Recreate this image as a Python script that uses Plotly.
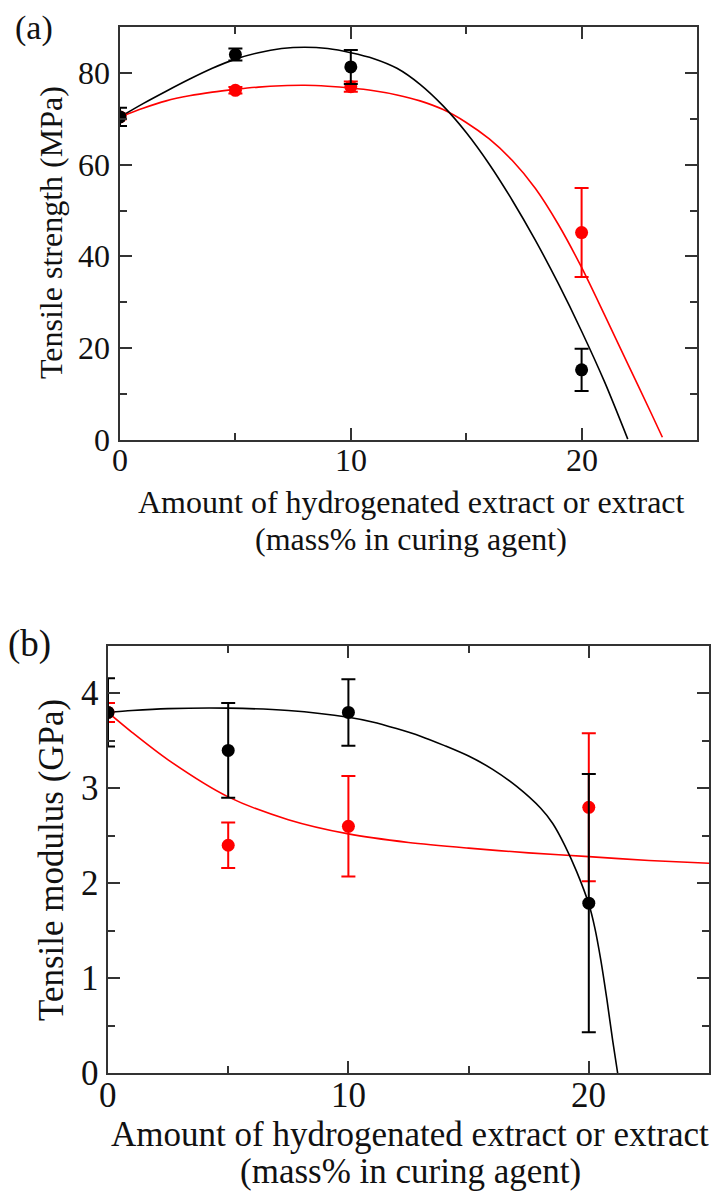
import plotly.graph_objects as go

W, H = 718, 1195

# ---------------- data ----------------
x_data = [0, 5, 10, 20]

# (a) tensile strength (MPa)
strength_black = [70.4, 84.0, 81.3, 15.3]
strength_black_err = [2.0, 1.3, 3.7, 4.6]
strength_red = [70.4, 76.2, 77.0, 45.2]
strength_red_err = [0.5, 0.7, 1.1, 9.7]

# fitted curves, values
fit_a_black_x = [0, 1, 2, 3, 4, 5, 6, 7, 8, 9, 10, 11, 12, 13, 14, 15, 16, 17, 18, 19, 20, 21, 22]
fit_a_black_y = [70.4, 73.3, 76.0, 78.6, 81.0, 83.0, 84.4, 85.3, 85.6, 85.3, 84.4, 83.1, 81.0, 77.5,
                 72.8, 67.0, 60.1, 52.2, 43.5, 34.0, 23.7, 12.6, 0.2]
fit_a_red_x = [0, 1, 2, 3, 4, 5, 6, 7, 8, 9, 10, 11, 12, 13, 14, 15, 16, 17, 18, 19, 20, 21, 22, 23, 23.5]
fit_a_red_y = [70.4, 72.3, 73.9, 75.0, 75.8, 76.4, 76.9, 77.2, 77.3, 77.1, 76.7, 76.1, 75.2, 73.9,
               72.0, 69.2, 65.6, 60.9, 54.8, 46.9, 37.6, 27.2, 16.6, 6.0, 0.6]

# (b) tensile modulus (GPa)
modulus_black = [3.80, 3.40, 3.80, 1.79]
modulus_black_err = [0.36, 0.50, 0.35, 1.36]
modulus_red = [3.80, 2.40, 2.60, 2.80]
modulus_red_err = [0.10, 0.24, 0.53, 0.78]

fit_b_black_x = [0, 1, 2.5, 5, 7.5, 10, 11, 12, 13, 14, 15, 16, 17, 18, 18.5, 19, 19.5, 20,
                 20.25, 20.5, 20.75, 21.0, 21.2]
fit_b_black_y = [3.80, 3.82, 3.84, 3.845, 3.82, 3.75, 3.70, 3.63, 3.55, 3.45, 3.34, 3.20, 3.02, 2.79,
                 2.63, 2.40, 2.12, 1.78, 1.53, 1.19, 0.78, 0.33, 0.0]
fit_b_red_x = [0, 1, 2.5, 5, 7.5, 10, 12.5, 15, 17.5, 20, 22.5, 25]
fit_b_red_y = [3.80, 3.59, 3.30, 2.91, 2.67, 2.52, 2.43, 2.37, 2.32, 2.28, 2.24, 2.21]

# axes
x_range = [0, 25]
a_y_range = [0, 90]
b_y_range = [0, 4.5]
x_tick_vals = [0, 10, 20]
x_tick_text = ["0", "10", "20"]
a_y_tick_vals = [0, 20, 40, 60, 80]
a_y_tick_text = ["0", "20", "40", "60", "80"]
b_y_tick_vals = [0, 1, 2, 3, 4]
b_y_tick_text = ["0", "1", "2", "3", "4"]

x_title_1 = "Amount of hydrogenated extract or extract"
x_title_2 = "(mass% in curing agent)"

# ---------------- styles ----------------
RED = "#ff0000"
BLACK = "#000000"
AXC = "#333333"
TXT = "#111111"
FONT = "Liberation Serif"

fig = go.Figure()


def add_panel(xa, ya, fx_b, fy_b, fx_r, fy_r, yb, eb, yr, er):
    fig.add_trace(go.Scatter(x=fx_r, y=fy_r, mode="lines",
                             line=dict(color=RED, width=1.6, shape="spline", smoothing=0.8),
                             xaxis=xa, yaxis=ya, showlegend=False, hoverinfo="skip"))
    fig.add_trace(go.Scatter(x=fx_b, y=fy_b, mode="lines",
                             line=dict(color=BLACK, width=1.6, shape="spline", smoothing=0.8),
                             xaxis=xa, yaxis=ya, showlegend=False, hoverinfo="skip"))
    fig.add_trace(go.Scatter(x=x_data, y=yr, mode="markers", marker=dict(color=RED, size=13),
                             error_y=dict(type="data", array=er, color=RED, thickness=2, width=7),
                             xaxis=xa, yaxis=ya, showlegend=False, name="extract"))
    fig.add_trace(go.Scatter(x=x_data, y=yb, mode="markers", marker=dict(color=BLACK, size=13),
                             error_y=dict(type="data", array=eb, color=BLACK, thickness=2, width=7),
                             xaxis=xa, yaxis=ya, showlegend=False, name="hydrogenated extract"))


add_panel("x", "y", fit_a_black_x, fit_a_black_y, fit_a_red_x, fit_a_red_y,
          strength_black, strength_black_err, strength_red, strength_red_err)
add_panel("x2", "y2", fit_b_black_x, fit_b_black_y, fit_b_red_x, fit_b_red_y,
          modulus_black, modulus_black_err, modulus_red, modulus_red_err)


def ax(domain, rng, dtick, minor_dtick, anchor):
    return dict(domain=domain, range=rng, anchor=anchor, dtick=dtick, tick0=0,
                showline=True, linecolor=AXC, linewidth=2, mirror="ticks",
                ticks="inside", ticklen=12, tickwidth=2, tickcolor=AXC,
                minor=dict(ticks="inside", ticklen=7, tickwidth=2, tickcolor=AXC,
                           dtick=minor_dtick, tick0=0),
                showgrid=False, zeroline=False, showticklabels=False, fixedrange=True)


def px_x(v):
    return v / W


def px_y(v):
    return 1 - v / H


fig.update_layout(
    width=W, height=H, margin=dict(l=0, r=0, t=0, b=0),
    paper_bgcolor="white", plot_bgcolor="white",
    xaxis=ax([120 / W, 697 / W], x_range, 10, 5, "y"),
    yaxis=ax([px_y(440), px_y(27)], a_y_range, 20, 10, "x"),
    xaxis2=ax([108 / W, 709 / W], x_range, 10, 5, "y2"),
    yaxis2=ax([px_y(1073), px_y(646)], b_y_range, 1, 0.5, "x2"),
    showlegend=False,
)

ann = []
tf_a = dict(family=FONT, size=32, color=TXT)
tf_b = dict(family=FONT, size=35, color=TXT)


def add_text(text, x, y, font, angle=0):
    ann.append(dict(text=text, x=px_x(x), y=px_y(y), xref="paper", yref="paper", showarrow=False,
                    textangle=angle, font=font, xanchor="center", yanchor="middle"))


# tick labels, placed through the axes' own scales
def add_tick_labels(xref, yref, xvals, xtext, yvals, ytext, x_label_y_px, y_label_x_px, font):
    for v, t in zip(xvals, xtext):
        ann.append(dict(text=t, x=v, xref=xref, y=px_y(x_label_y_px), yref="paper",
                        showarrow=False, font=font, xanchor="center", yanchor="middle"))
    for v, t in zip(yvals, ytext):
        ann.append(dict(text=t, x=px_x(y_label_x_px), xref="paper", y=v, yref=yref,
                        showarrow=False, font=font, xanchor="right", yanchor="middle"))


add_tick_labels("x", "y", x_tick_vals, x_tick_text, a_y_tick_vals, a_y_tick_text, 460, 112, tf_a)
add_tick_labels("x2", "y2", x_tick_vals, x_tick_text, b_y_tick_vals, b_y_tick_text, 1095, 101, tf_b)

add_text("(a)", 34, 28, dict(family=FONT, size=34, color=TXT))
add_text("(b)", 29, 644, dict(family=FONT, size=37, color=TXT))
add_text("Tensile strength (MPa)", 51, 233, tf_a, -90)
add_text(x_title_1, 411, 502, tf_a)
add_text(x_title_2, 411, 539, tf_a)
add_text("Tensile modulus (GPa)", 51, 860, tf_b, -90)
add_text(x_title_1, 410, 1134, tf_b)
add_text(x_title_2, 410, 1171, tf_b)
fig.update_layout(annotations=ann)

fig.write_html("out.html")
